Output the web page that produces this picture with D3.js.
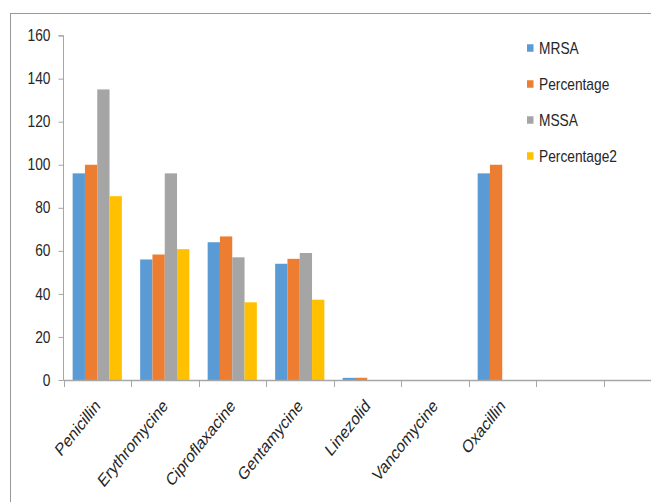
<!DOCTYPE html>
<html>
<head>
<meta charset="utf-8">
<script src="https://cdn.jsdelivr.net/npm/d3@7"></script>
<style>
  html, body { margin: 0; padding: 0; background: #fff; }
  svg { display: block; }
  text { font-family: "Liberation Sans", Arial, sans-serif; fill: #262626; }
</style>
</head>
<body>
<svg id="chart" width="651" height="502"></svg>
<script>
// Antibiotic resistance counts and percentages (MRSA vs MSSA)
const categories = ["Penicillin", "Erythromycine", "Ciproflaxacine", "Gentamycine",
                    "Linezolid", "Vancomycine", "Oxacillin", "", ""];
const seriesNames = ["MRSA", "Percentage", "MSSA", "Percentage2"];
const mrsa        = [96, 56, 64, 54, 1, 0, 96, null, null];
const percentage  = [100, 58.3, 66.7, 56.3, 1.04, 0, 100, null, null];
const mssa        = [135, 96, 57, 59, 0, 0, null, null, null];
const percentage2 = [85.4, 60.8, 36.1, 37.3, 0, 0, null, null, null];
const yTicks      = [0, 20, 40, 60, 80, 100, 120, 140, 160];
const colors      = ["#5B9BD5", "#ED7D31", "#A5A5A5", "#FFC000"];

const seriesValues = [mrsa, percentage, mssa, percentage2];

const svg = d3.select("#chart");
const axisColor = "#a6a6a6";
const squeeze = 0.86;   // narrow text face
const fontSize = 16;

// outer chart frame
svg.append("rect")
  .attr("x", 10.5).attr("y", 13.5)
  .attr("width", 700).attr("height", 600)
  .attr("fill", "none").attr("stroke", "#999").attr("stroke-width", 1);

const x0 = d3.scaleBand()
  .domain(d3.range(categories.length))
  .range([63.5, 63.5 + 67.5 * categories.length])
  .padding(0);

const x1 = d3.scaleBand()
  .domain(seriesNames)
  .range([0, x0.bandwidth()])
  .paddingInner(0)
  .paddingOuter(0.744);

const y = d3.scaleLinear().domain([0, 160]).range([380, 35.6]);
const color = d3.scaleOrdinal().domain(seriesNames).range(colors);

// bars
const groups = svg.append("g").selectAll("g")
  .data(categories.map((c, i) => i))
  .join("g")
  .attr("transform", i => `translate(${x0(i)},0)`);

groups.selectAll("rect")
  .data(i => seriesNames.map((s, k) => ({ s, v: seriesValues[k][i] })).filter(d => d.v))
  .join("rect")
  .attr("x", d => x1(d.s))
  .attr("width", x1.bandwidth())
  .attr("y", d => y(d.v))
  .attr("height", d => y(0) - y(d.v))
  .attr("fill", d => color(d.s));

// y axis
const yAxis = svg.append("g")
  .attr("transform", "translate(63.5,0)")
  .call(d3.axisLeft(y).tickValues(yTicks).tickSize(5).tickPadding(8).tickFormat(d3.format("d")));
yAxis.select(".domain").attr("stroke", axisColor).attr("d", `M-5,${y(160)}H0V${y(0)}`);
yAxis.selectAll(".tick line").attr("stroke", axisColor);
yAxis.selectAll(".tick text")
  .attr("x", null)
  .attr("transform", `translate(-13,0) scale(${squeeze},1)`)
  .attr("font-size", fontSize).attr("fill", "#262626")
  .style("font-family", "'Liberation Sans', Arial, sans-serif");

// x axis with ticks on slot boundaries
const xg = svg.append("g");
xg.append("line")
  .attr("x1", 63.5).attr("x2", 651)
  .attr("y1", y(0) + 0.5).attr("y2", y(0) + 0.5)
  .attr("stroke", axisColor).attr("stroke-width", 1.5);
xg.selectAll("line.tick")
  .data(d3.range(categories.length))
  .join("line")
  .attr("class", "tick")
  .attr("x1", i => Math.round(x0(i)) + 0.5).attr("x2", i => Math.round(x0(i)) + 0.5)
  .attr("y1", y(0)).attr("y2", y(0) + 7)
  .attr("stroke", axisColor);

// rotated category labels
xg.selectAll("text")
  .data(categories.map((c, i) => ({ c, i })).filter(d => d.c))
  .join("text")
  .attr("transform", d => `translate(${x0(d.i) + x0.bandwidth() / 2 + 4},407) scale(0.8,1) rotate(-45)`)
  .attr("text-anchor", "end")
  .attr("font-size", 18)
  .text(d => d.c);

// legend
const legend = svg.append("g").selectAll("g")
  .data(seriesNames)
  .join("g")
  .attr("transform", (d, i) => `translate(527,${48 + i * 36})`);
legend.append("rect")
  .attr("x", 0).attr("y", -3.75).attr("width", 6.5).attr("height", 7.5)
  .attr("fill", d => color(d));
legend.append("text")
  .attr("transform", `translate(12,0) scale(${squeeze},1)`)
  .attr("dy", "0.35em")
  .attr("font-size", fontSize)
  .text(d => d);
</script>
</body>
</html>
